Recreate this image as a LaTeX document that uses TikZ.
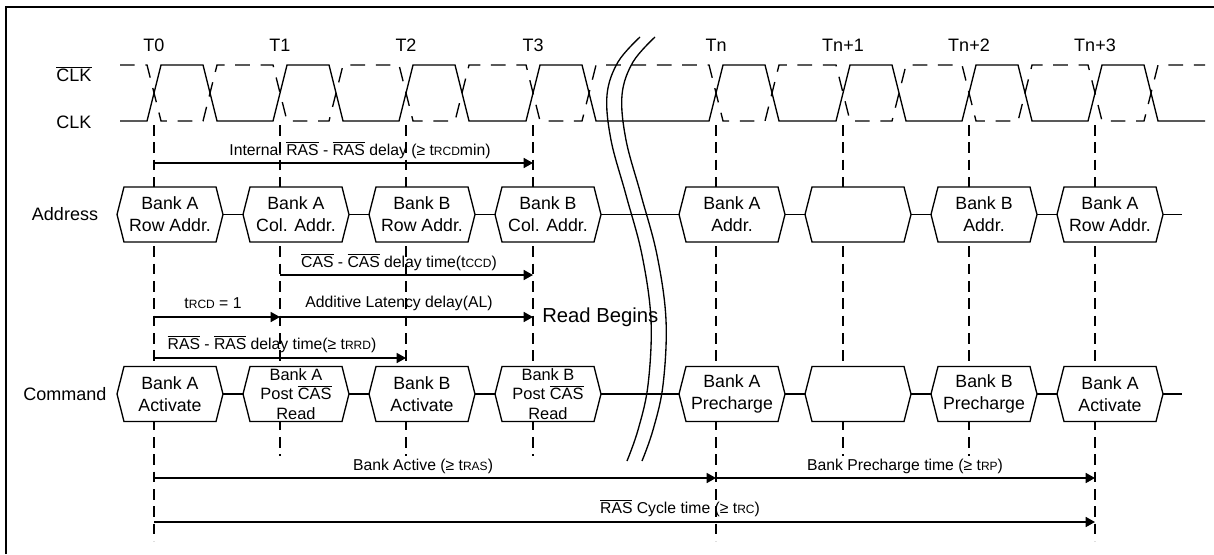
\documentclass[tikz,border=0pt]{standalone}
\usepackage{fontspec}
\setmainfont{Liberation Sans}
\usetikzlibrary{arrows.meta}
\newcommand\ovl[1]{$\overline{\hbox{#1}}$}
\newcommand\sm[1]{{\fontsize{9}{9}\selectfont #1}}
\newcommand\hexb[6][btxt]{% [text style] name, cx, cy, h, text
  \filldraw[hexline] ({#3-53},#4) coordinate (#2-l) -- ({#3-46},{#4-#5/2}) -- ({#3+46},{#4-#5/2}) -- ({#3+53},#4) coordinate (#2-r) -- ({#3+46},{#4+#5/2}) -- ({#3-46},{#4+#5/2}) -- cycle;
  \node[#1] (#2) at (#3,#4) {#6};
}
\begin{document}
\begin{tikzpicture}[x=0.75pt,y=-0.75pt,
  wave/.style={line width=1pt},
  dwave/.style={line width=1pt, dash pattern=on 11pt off 8pt},
  tline/.style={line width=1pt, dash pattern=on 8pt off 5pt},
  hexline/.style={line width=1pt, fill=white},
  conn/.style={line width=1pt},
  arr/.style={line width=1.2pt, -{Triangle[length=7pt,width=7.5pt]}},
  lbl/.style={font=\fontsize{11.8}{12}\selectfont, inner sep=0},
  btxt/.style={font=\fontsize{13.3}{16.3}\selectfont, align=center, inner sep=0},
  stxt/.style={font=\fontsize{12.3}{14.4}\selectfont, align=center, inner sep=0},
  sig/.style={font=\fontsize{13.5}{14}\selectfont, inner sep=0},
  frame/.style={line width=2.2pt}]
\useasboundingbox (0,0) rectangle (1214,554);
% frame (partly cropped)
\draw[frame] (6,554) -- (6,7) -- (1214,7);
% time labels
\foreach \t/\n/\nm in {154/T0/t0,280/T1/t1,406/T2/t2,533/T3/t3,716/Tn/tn,843/Tn+1/tn1,969/Tn+2/tn2,1095/Tn+3/tn3}
  \node[sig] (lab\nm) at (\t,45) {\n};
% signal labels
\node[sig] (clkb) at (74,74) {\ovl{CLK}};
\node[sig] (clk) at (74,122) {CLK};
\node[sig] (addr) at (65,214) {Address};
\node[sig] (cmd) at (65,394) {Command};
% vertical time lines
\foreach \t in {154,716,1095} \draw[tline] (\t,125) -- (\t,541);
\foreach \t in {280,406,533,843,969} \draw[tline] (\t,125) -- (\t,456);
% clock waveforms
\draw[wave] (120,121) \foreach \t/\n in {154/280,280/406,406/533,533/716,716/843,843/969,969/1095,1095/1212}
  { -- (\t-7,121) -- (\t+7,65) -- (\t+49,65) -- (\t+63,121) -- (\n-7,121) };
\draw[dwave] (120,65) \foreach \t/\n in {154/280,280/406,406/533,533/716,716/843,843/969,969/1095,1095/1212}
  { -- (\t-7,65) -- (\t+7,121) -- (\t+49,121) -- (\t+63,65) -- (\n-7,65) };
% break mark
\draw[wave] plot[smooth, tension=0.6] coordinates {(640,37) (618,62) (607,95) (611,140) (626,195) (642,255) (651,320) (648,385) (638,430) (627,461)};
\draw[wave] plot[smooth, tension=0.6] coordinates {(655,37) (633,62) (622,95) (626,140) (641,195) (657,255) (666,320) (663,385) (653,430) (642,461)};
% address bus
\hexb{a1}{170}{214.5}{55}{Bank A\\Row Addr.}
\hexb{a2}{296}{214.5}{55}{Bank A\\Col. Addr.}
\hexb{a3}{422}{214.5}{55}{Bank B\\Row Addr.}
\hexb{a4}{548}{214.5}{55}{Bank B\\Col. Addr.}
\hexb{a5}{732}{214.5}{55}{Bank A\\Addr.}
\hexb{a6}{858}{214.5}{55}{}
\hexb{a7}{984}{214.5}{55}{Bank B\\Addr.}
\hexb{a8}{1110}{214.5}{55}{Bank A\\Row Addr.}
\coordinate (aend) at (1182,214.5);
\draw[conn] (a1-r) -- (a2-l) (a2-r) -- (a3-l) (a3-r) -- (a4-l) (a4-r) -- (a5-l) (a5-r) -- (a6-l) (a6-r) -- (a7-l) (a7-r) -- (a8-l) (a8-r) -- (aend);
% command bus
\hexb{c1}{170}{394}{55}{Bank A\\Activate}
\hexb[stxt]{c2}{296}{394}{55}{Bank A\\Post \ovl{CAS}\\Read}
\hexb{c3}{422}{394}{55}{Bank B\\Activate}
\hexb[stxt]{c4}{548}{394}{55}{Bank B\\Post \ovl{CAS}\\Read}
\hexb{c5}{732}{394}{55}{Bank A\\Precharge}
\hexb{c6}{858}{394}{55}{}
\hexb{c7}{984}{394}{55}{Bank B\\Precharge}
\hexb{c8}{1110}{394}{55}{Bank A\\Activate}
\coordinate (cend) at (1182,394);
\draw[conn] (c1-r) -- (c2-l) (c2-r) -- (c3-l) (c3-r) -- (c4-l) (c4-r) -- (c5-l) (c5-r) -- (c6-l) (c6-r) -- (c7-l) (c7-r) -- (c8-l) (c8-r) -- (cend);
% timing arrows
\coordinate (p1s) at (154,163); \coordinate (p1e) at (533,163);
\draw[arr] (p1s) -- (p1e);
\node[lbl] (l1) at (360,150) {Internal \ovl{RAS} - \ovl{RAS} delay (≥ t\sm{RCD}min)};
\coordinate (p2s) at (280,275); \coordinate (p2e) at (533,275);
\draw[arr] (p2s) -- (p2e);
\node[lbl] (l2) at (399,262) {\ovl{CAS} - \ovl{CAS} delay time(t\sm{CCD})};
\coordinate (p3s) at (154,317); \coordinate (p3m) at (280,317); \coordinate (p3e) at (533,317);
\draw[arr] (p3s) -- (p3m);
\draw[arr] (p3m) -- (p3e);
\node[lbl] (l3) at (213,303) {t\sm{RCD} = 1};
\node[lbl] (l4) at (399,303) {Additive Latency delay(AL)};
\node[font=\fontsize{15.2}{16}\selectfont, inner sep=0, anchor=west] (rb) at (542,317) {Read Begins};
\coordinate (p5s) at (154,358); \coordinate (p5e) at (406,358);
\draw[arr] (p5s) -- (p5e);
\node[lbl] (l5) at (272,344) {\ovl{RAS} - \ovl{RAS} delay time(≥ t\sm{RRD})};
\coordinate (p6s) at (154,478); \coordinate (p6m) at (716,478); \coordinate (p6e) at (1095,478);
\draw[arr] (p6s) -- (p6m);
\draw[arr] (p6m) -- (p6e);
\node[lbl] (l6) at (423,466) {Bank Active (≥ t\sm{RAS})};
\node[lbl] (l7) at (905,466) {Bank Precharge time (≥ t\sm{RP})};
\coordinate (p8s) at (154,522); \coordinate (p8e) at (1095,522);
\draw[arr] (p8s) -- (p8e);
\node[lbl] (l8) at (680,508) {\ovl{RAS} Cycle time (≥ t\sm{RC})};
\end{tikzpicture}
\end{document}
